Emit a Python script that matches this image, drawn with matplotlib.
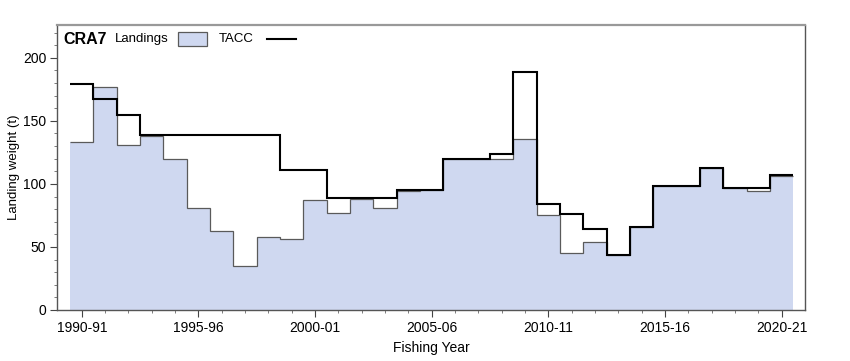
import numpy as np
import matplotlib
matplotlib.use("Agg")
import matplotlib.pyplot as plt
from matplotlib.patches import Rectangle
from matplotlib.lines import Line2D

plt.rcParams.update({
    "font.family": ["Liberation Sans", "DejaVu Sans"],
    "font.size": 10,
})

# fishing years 1990-91 .. 2020-21
years = [f"{y}-{str(y + 1)[-2:]}" for y in range(1990, 2021)]
landings = [133, 177, 131, 138, 120, 81, 63, 35, 58, 56, 87, 77, 88, 81, 94,
            95, 120, 120, 120, 136, 75, 45, 54, 44, 66, 98, 98, 113, 97, 94, 106]
tacc = [179, 167, 155, 139, 139, 139, 139, 139, 139, 111, 111, 89, 89, 89, 95,
        95, 120, 120, 124, 189, 84, 76, 64, 44, 66, 98, 98, 113, 97, 97, 107]

FILL = "#cfd8f0"
EDGE = "#5a5a5a"

n = len(years)
edges = np.arange(n + 1) - 0.5

fig = plt.figure(figsize=(8.5, 3.61), dpi=100)
ax = fig.add_axes([0.0674, 0.1413, 0.8796, 0.7894])

ax.stairs(landings, edges, fill=True, color=FILL, zorder=1)
ax.stairs(landings, edges, baseline=None, color=EDGE, lw=0.9, zorder=2)
ax.stairs(tacc, edges, baseline=None, color="black", lw=1.5, zorder=3)

ax.set_xlim(-1.05, 31.0)
ax.set_ylim(0, 226)
ax.set_xticks(np.arange(0, n, 5))
ax.set_xticklabels([years[i] for i in range(0, n, 5)])
ax.set_xticks(np.arange(0, n), minor=True)
ax.set_yticks(np.arange(0, 201, 50))
ax.set_yticks(np.arange(0, 221, 10), minor=True)
ax.tick_params(which="major", length=5, width=0.8, color="#444444", labelsize=10, pad=3)
ax.tick_params(which="minor", length=2.5, width=0.6, color="#666666")

for side in ("left", "bottom", "right"):
    ax.spines[side].set_color("#555555")
    ax.spines[side].set_linewidth(1.0)
ax.spines["top"].set_color("#999999")
ax.spines["top"].set_linewidth(1.6)

ax.set_xlabel("Fishing Year", fontsize=10, labelpad=4)
ax.set_ylabel("Landing weight (t)", fontsize=9.5, labelpad=2)

# legend row drawn by hand (text first, then key)
ax.text(0.008, 0.95, "CRA7", transform=ax.transAxes, fontsize=11.5,
        fontweight="bold", va="center", ha="left")
ax.text(0.077, 0.95, "Landings", transform=ax.transAxes, fontsize=9.5,
        va="center", ha="left")
ax.add_patch(Rectangle((0.161, 0.925), 0.039, 0.05, transform=ax.transAxes,
                       facecolor=FILL, edgecolor=EDGE, lw=0.9, zorder=4))
ax.text(0.216, 0.95, "TACC", transform=ax.transAxes, fontsize=9.5,
        va="center", ha="left")
ax.add_line(Line2D([0.280, 0.319], [0.95, 0.95], transform=ax.transAxes,
                   color="black", lw=1.5, zorder=4))

fig.savefig("out.png", dpi=100)
